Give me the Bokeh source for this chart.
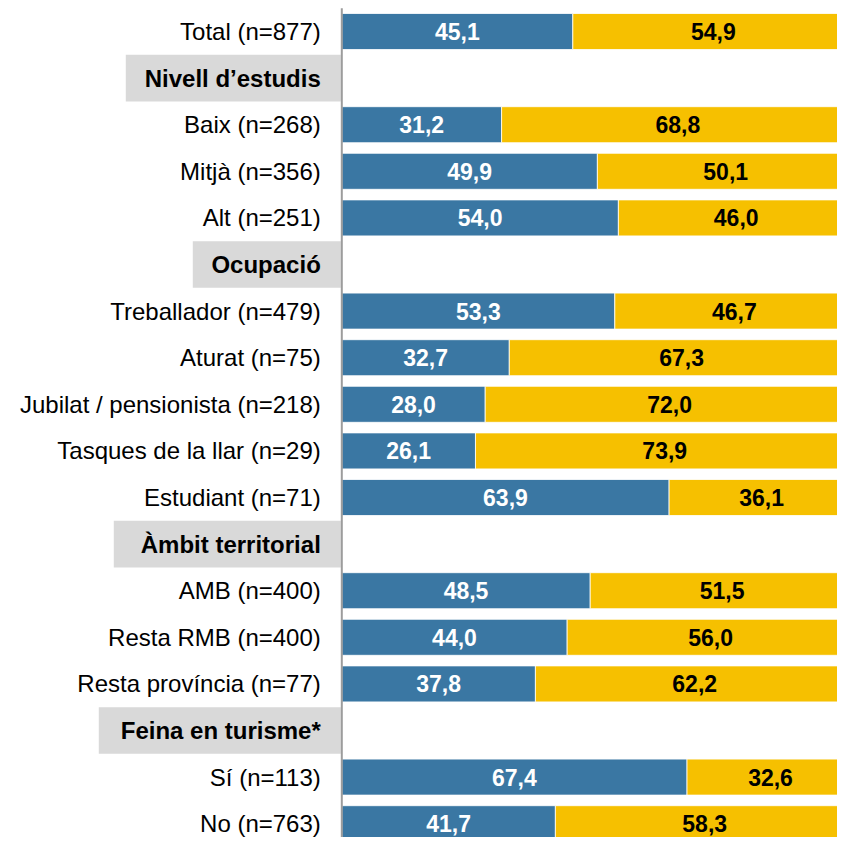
from bokeh.plotting import figure
from bokeh.models import ColumnDataSource, Range1d
from bokeh.core.properties import value
from bokeh.embed import file_html
from bokeh.resources import INLINE

# ---------------- data ----------------
rows = ["Total (n=877)", "Nivell d’estudis", "Baix (n=268)", "Mitjà (n=356)", "Alt (n=251)",
        "Ocupació", "Treballador (n=479)", "Aturat (n=75)", "Jubilat / pensionista (n=218)",
        "Tasques de la llar (n=29)", "Estudiant (n=71)", "Àmbit territorial", "AMB (n=400)",
        "Resta RMB (n=400)", "Resta província (n=77)", "Feina en turisme*", "Sí (n=113)",
        "No (n=763)"]
headers = ["Nivell d’estudis", "Ocupació", "Àmbit territorial", "Feina en turisme*"]
categories = [r for r in rows if r not in headers]
serie_a = [45.1, 31.2, 49.9, 54.0, 53.3, 32.7, 28.0, 26.1, 63.9, 48.5, 44.0, 37.8, 67.4, 41.7]
serie_b = [54.9, 68.8, 50.1, 46.0, 46.7, 67.3, 72.0, 73.9, 36.1, 51.5, 56.0, 62.2, 32.6, 58.3]

# ---------------- layout / style ----------------
W, H = 837, 837
AXIS_PX = 341.3          # canvas x of the 0 line
PX_PER_UNIT = 5.122      # pixels per percentage point
ROW0_PX = 31.0           # canvas y of first row centre
PITCH = 46.6             # px between rows
BAR_PX = 36.0
HEADER_BOX_PX = {"Nivell d’estudis": 216, "Ocupació": 149,
                 "Àmbit territorial": 228, "Feina en turisme*": 243}
BLUE = "#3a77a3"
YELLOW = "#f6c000"
GREY_BOX = "#d9d9d9"
FONT = value("Liberation Sans")

def fmt(v):
    return f"{v:.1f}".replace(".", ",")

ypos = {r: i for i, r in enumerate(rows)}

x_start = -AXIS_PX / PX_PER_UNIT
x_end = x_start + W / PX_PER_UNIT
y_top = -ROW0_PX / PITCH
y_bottom = (H - ROW0_PX) / PITCH

p = figure(width=W, height=H, x_range=Range1d(x_start, x_end),
           y_range=Range1d(y_bottom, y_top), output_backend="svg",
           toolbar_location=None, x_axis_location=None, y_axis_location=None,
           min_border=0)
p.grid.visible = False
p.outline_line_color = None
p.background_fill_color = "white"
p.border_fill_color = "white"

cat_y = [ypos[c] for c in categories]
src = ColumnDataSource(dict(
    y=cat_y, label=categories, a=serie_a, b=serie_b,
    total=[a + b for a, b in zip(serie_a, serie_b)],
    a_mid=[a / 2 for a in serie_a],
    b_mid=[a + b / 2 for a, b in zip(serie_a, serie_b)],
    a_txt=[fmt(v) for v in serie_a], b_txt=[fmt(v) for v in serie_b],
))

bar_h = BAR_PX / PITCH
p.hbar(y="y", left=0, right="a", height=bar_h, source=src,
       fill_color=BLUE, line_color="white", line_width=0.8)
p.hbar(y="y", left="a", right="total", height=bar_h, source=src,
       fill_color=YELLOW, line_color="white", line_width=0.8)

p.text(x=0, y="y", text="label", source=src, x_offset=-21,
       text_align="right", text_baseline="middle", text_font=FONT,
       text_font_size="24px", text_color="#000000")
p.text(x="a_mid", y="y", text="a_txt", source=src, text_align="center",
       text_baseline="middle", text_font=FONT, text_font_size="23px",
       text_font_style="bold", text_color="white")
p.text(x="b_mid", y="y", text="b_txt", source=src, text_align="center",
       text_baseline="middle", text_font=FONT, text_font_size="23px",
       text_font_style="bold", text_color="#000000")

hsrc = ColumnDataSource(dict(
    y=[ypos[h] for h in headers], label=headers,
    left=[-HEADER_BOX_PX[h] / PX_PER_UNIT for h in headers],
    right=[-1.0 / PX_PER_UNIT for h in headers],
    top=[ypos[h] - 0.5 for h in headers],
    bottom=[ypos[h] + 0.5 for h in headers],
))
p.quad(left="left", right="right", top="top", bottom="bottom", source=hsrc,
       fill_color=GREY_BOX, line_color=None)
p.text(x=0, y="y", text="label", source=hsrc, x_offset=-21,
       text_align="right", text_baseline="middle", text_font=FONT,
       text_font_size="24px", text_font_style="bold", text_color="#000000")

# vertical zero line, from the top of the first row to below the last
p.segment(x0=[0], y0=[-0.5], x1=[0], y1=[len(rows) + 1],
          line_color="#9c9c9c", line_width=2)

open("out.html", "w").write(file_html(p, INLINE))
